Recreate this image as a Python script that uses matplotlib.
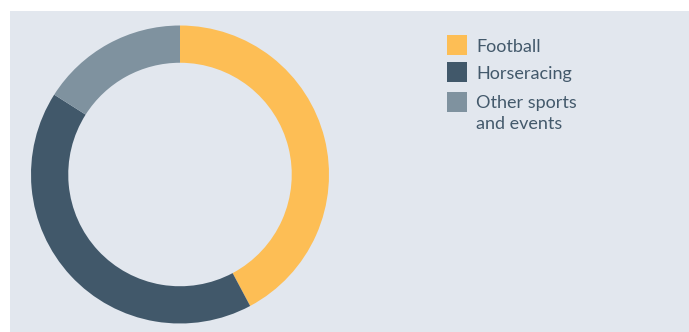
import matplotlib

matplotlib.use("Agg")
import matplotlib.pyplot as plt
from matplotlib.patches import Rectangle

labels = ["Football", "Horseracing", "Other sports\nand events"]
shares = [42.2, 41.8, 16.0]
colors = ["#fdbe55", "#41586a", "#7f929f"]

BG = "#e2e7ee"
TXT = "#43596b"
W, H = 689, 332

plt.rcParams["font.family"] = ["Lato", "DejaVu Sans"]

fig = plt.figure(figsize=(W / 100, H / 100), dpi=100)
fig.patch.set_facecolor("white")
# panel background, kept under the axes
fig.patches.append(Rectangle((10 / W, 0), 1 - 10 / W, 1 - 11 / H,
                             transform=fig.transFigure, facecolor=BG,
                             edgecolor="none", zorder=-5))

# donut: centre (180, 174.5) px, outer radius 149 px
cx, cy, r = 180, 174.5, 149
ax = fig.add_axes([(cx - r) / W, (H - cy - r) / H, 2 * r / W, 2 * r / H])
ax.set_zorder(2)
ax.pie(shares, colors=colors, startangle=90, counterclock=False, radius=1,
       wedgeprops=dict(width=0.25, edgecolor="none", antialiased=True))
ax.set_xlim(-1, 1)
ax.set_ylim(-1, 1)
ax.set_aspect("equal")
ax.axis("off")

# legend, drawn by hand (pixel positions from the top)
sq = 20
tops = [35, 62, 92]
baselines = [52, 79, 108]
for lab, col, top, base in zip(labels, colors, tops, baselines):
    fig.patches.append(Rectangle((447 / W, (H - top - sq) / H), sq / W, sq / H,
                                 transform=fig.transFigure, facecolor=col,
                                 edgecolor="none"))
    for i, line in enumerate(lab.split("\n")):
        fig.text(476 / W, (H - base - 21 * i) / H, line, ha="left",
                 va="baseline", fontsize=13, color=TXT)

fig.savefig("out.png", dpi=100, facecolor=fig.get_facecolor())
